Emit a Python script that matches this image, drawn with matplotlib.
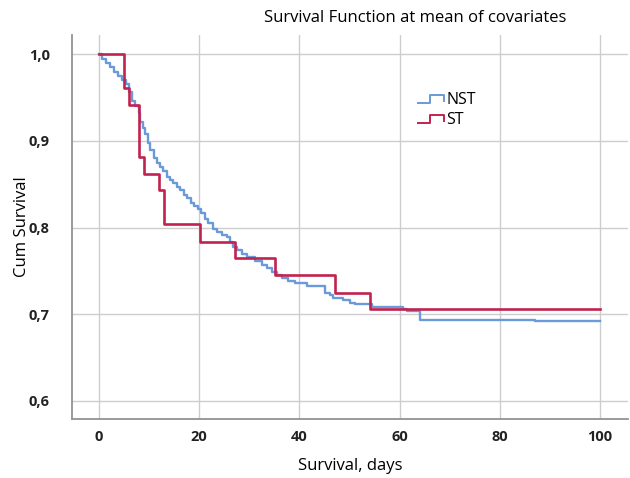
import matplotlib
matplotlib.use("Agg")
import matplotlib.pyplot as plt
from matplotlib.legend_handler import HandlerBase
from matplotlib.lines import Line2D
from matplotlib.ticker import FuncFormatter

plt.rcParams['font.family'] = ['Open Sans', 'DejaVu Sans']

# NST: survival after each drop (days, cum survival)
nst_days = [0, 0.6, 1.3, 2.2, 3.0, 3.8, 4.5, 5.3, 6.0, 6.6, 7.2, 7.9, 8.1, 8.7,
            9.2, 9.7, 10.2, 10.9, 11.5, 12.2, 12.8, 13.5, 14.2, 14.8, 15.5,
            16.2, 16.9, 17.6, 18.3, 19.0, 19.7, 20.3, 21.2, 21.8, 22.8, 23.5,
            24.5, 25.5, 26.1, 26.8, 27.5, 28.5, 29.5, 31.1, 32.5, 33.5, 34.5,
            35.5, 36.5, 37.8, 39.1, 41.5, 45.1, 46.1, 46.8, 48.8, 50.1, 51.1,
            54.4, 60.7, 61.4, 64.1, 87.0, 100]
nst_surv = [1.0, 0.995, 0.990, 0.985, 0.980, 0.975, 0.970, 0.966, 0.956, 0.946,
            0.940, 0.932, 0.922, 0.915, 0.908, 0.898, 0.890, 0.880, 0.875,
            0.870, 0.865, 0.859, 0.855, 0.851, 0.847, 0.843, 0.838, 0.834,
            0.829, 0.825, 0.821, 0.817, 0.810, 0.805, 0.799, 0.795, 0.792,
            0.789, 0.784, 0.778, 0.774, 0.770, 0.766, 0.762, 0.757, 0.753,
            0.749, 0.745, 0.742, 0.739, 0.736, 0.733, 0.725, 0.722, 0.719,
            0.716, 0.713, 0.712, 0.708, 0.706, 0.704, 0.694, 0.692, 0.692]

# ST
st_days = [0, 5.0, 6.0, 8.0, 8.9, 12.0, 13.0, 20.1, 27.1, 35.1, 47.1, 54.1, 100]
st_surv = [1.0, 0.961, 0.941, 0.882, 0.862, 0.843, 0.804, 0.784, 0.765,
           0.745, 0.725, 0.706, 0.706]

x_ticks = [0, 20, 40, 60, 80, 100]
y_ticks = [0.6, 0.7, 0.8, 0.9, 1.0]

blue = '#6a9ad8'
red = '#c2224f'


class StepHandler(HandlerBase):
    def create_artists(self, legend, orig_handle, xdescent, ydescent,
                       width, height, fontsize, trans):
        lo = -ydescent + height * 0.1
        hi = -ydescent + height * 0.85
        xs = [-xdescent, -xdescent + width * 0.45, -xdescent + width * 0.45,
              -xdescent + width, -xdescent + width]
        ys = [lo, lo, hi, hi, lo + height * 0.2]
        ln = Line2D(xs, ys, color=orig_handle.get_color(),
                    lw=1.4, transform=trans)
        return [ln]


fig = plt.figure(figsize=(6.3, 4.78), dpi=100)
ax = fig.add_axes([72/630, 1 - 419/478, (628 - 72)/630, (419 - 35)/478])

l1, = ax.step(nst_days, nst_surv, where='post', color=blue, lw=1.7, label='NST', zorder=3)
l2, = ax.step(st_days, st_surv, where='post', color=red, lw=1.9, label='ST', zorder=4)

ax.set_xlim(-5.4, 105.6)
ax.set_ylim(0.5792, 1.0223)
ax.set_xticks(x_ticks)
ax.set_yticks(y_ticks)
ax.yaxis.set_major_formatter(FuncFormatter(lambda v, p: f"{v:.1f}".replace('.', ',')))
ax.grid(True, color='#cdcdcd', lw=1.0)
ax.set_axisbelow(True)
for s in ['top', 'right']:
    ax.spines[s].set_visible(False)
for s in ['left', 'bottom']:
    ax.spines[s].set_color('#929292')
    ax.spines[s].set_linewidth(1.3)
ax.tick_params(length=0, labelsize=10.5, pad=8)
ax.tick_params(axis='y', pad=16)
for lab in ax.get_xticklabels() + ax.get_yticklabels():
    lab.set_fontweight('bold')
    lab.set_color('#222222')

ax.set_xlabel('Survival, days', fontsize=12, va='center')
ax.set_ylabel('Cum Survival', fontsize=12, va='center')
ax.xaxis.set_label_coords(0.5, (419 - 466) / 384)
ax.yaxis.set_label_coords((22 - 72) / 556, 0.5)

fig.text(415/630, 1 - 18/478, 'Survival Function at mean of covariates',
         ha='center', va='center', fontsize=12)

ax.legend(handles=[l1, l2], handler_map={Line2D: StepHandler()},
          loc='upper left', bbox_to_anchor=(404/630, 1 - 78/478),
          bbox_transform=fig.transFigure, frameon=False, fontsize=11.5,
          handlelength=1.6, handletextpad=0.15, labelspacing=0.25)

fig.savefig('out.png', dpi=100)
